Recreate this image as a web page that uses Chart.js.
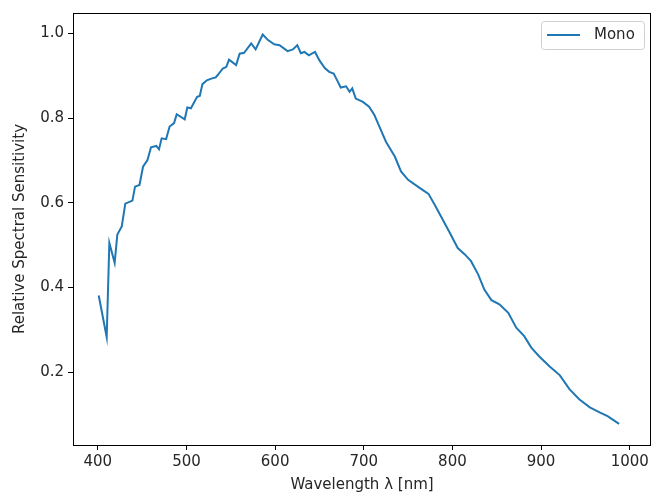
<!DOCTYPE html>
<html>
<head>
<meta charset="utf-8">
<script src="https://cdn.jsdelivr.net/npm/chart.js@4.4.1/dist/chart.umd.min.js"></script>
<style>
    html, body { margin: 0; padding: 0; background: #fff; }
    #wrap { width: 652px; height: 497px; }
</style>
</head>
<body>
<div id="wrap"><canvas id="chart"></canvas></div>
<script>
// Data
const wavelengths = [
    401, 410, 413, 419, 422, 427, 431, 439, 442, 447, 451, 456, 460, 466, 469, 472, 477, 481, 486, 489,
    498, 501, 505, 512, 515, 518, 523, 528, 533, 535, 541, 545, 548, 556, 560, 565, 573, 578, 586, 592,
    599, 605, 614, 620, 625, 629, 633, 638, 645, 650, 656, 661, 666, 670, 674, 680, 684, 687, 691, 699,
    706, 712, 718, 725, 735, 742, 750, 763, 773, 780, 787, 797, 806, 814, 821, 829, 836, 844, 853, 863,
    872, 881, 889, 898, 910, 921, 932, 943, 955, 966, 975, 988
];
const monoSensitivity = [
    0.381, 0.283, 0.505, 0.458, 0.525, 0.544, 0.598, 0.605, 0.638, 0.642, 0.685, 0.701, 0.731, 0.734, 0.726, 0.752, 0.750, 0.780, 0.788, 0.809,
    0.797, 0.825, 0.823, 0.850, 0.852, 0.880, 0.889, 0.893, 0.896, 0.901, 0.917, 0.921, 0.938, 0.925, 0.952, 0.954, 0.976, 0.962, 0.997, 0.984,
    0.974, 0.972, 0.958, 0.962, 0.972, 0.953, 0.956, 0.948, 0.956, 0.936, 0.918, 0.909, 0.905, 0.889, 0.872, 0.875, 0.862, 0.870, 0.846, 0.838,
    0.827, 0.807, 0.778, 0.744, 0.709, 0.674, 0.654, 0.635, 0.621, 0.595, 0.568, 0.529, 0.493, 0.478, 0.462, 0.431, 0.395, 0.370, 0.360, 0.340,
    0.305, 0.285, 0.258, 0.237, 0.213, 0.193, 0.160, 0.136, 0.117, 0.105, 0.096, 0.078
];
const xTicks = [400, 500, 600, 700, 800, 900, 1000];
const yTicks = [0.2, 0.4, 0.6, 0.8, 1.0];
const seriesLabel = "Mono";

const FONT = "'DejaVu Sans', sans-serif";
const TEXT = "#262626";
const BLUE = "#1f77b4";

// Frame round the plot area (matplotlib spines)
const framePlugin =
{
    id: 'frame',
    afterDatasetsDraw(chart)
    {
        const { ctx, chartArea: a } = chart;
        ctx.save();
        ctx.strokeStyle = "#000";
        ctx.lineWidth = 1;
        ctx.strokeRect(Math.round(a.left) + 0.5, Math.round(a.top) + 0.5,
                       Math.round(a.right - a.left) - 1, Math.round(a.bottom - a.top));
        ctx.restore();
    }
};

// Legend box in the upper right corner, inside the plot
const legendBoxPlugin =
{
    id: 'legendBox',
    afterDraw(chart)
    {
        const { ctx, chartArea: a } = chart;
        const ds = chart.data.datasets[0];
        const w = 103, h = 28;
        const x = a.right - 7 - w, y = a.top + 8;

        ctx.save();
        ctx.beginPath();
        ctx.roundRect(x + 0.5, y + 0.5, w, h, 3);
        ctx.fillStyle = "rgba(255,255,255,0.8)";
        ctx.fill();
        ctx.strokeStyle = "#d0d0d0";
        ctx.lineWidth = 1;
        ctx.stroke();

        ctx.beginPath();
        ctx.moveTo(x + 6, y + 14);
        ctx.lineTo(x + 39, y + 14);
        ctx.strokeStyle = ds.borderColor;
        ctx.lineWidth = 2;
        ctx.stroke();

        ctx.fillStyle = TEXT;
        ctx.font = "15px " + FONT;
        ctx.textBaseline = "middle";
        ctx.fillText(ds.label, x + 53, y + 14.5);
        ctx.restore();
    }
};

new Chart(
    document.getElementById('chart'),
    {
        type: 'line',

        data:
        {
            datasets:
            [
                {
                    label: seriesLabel,
                    data: wavelengths.map((w, i) => ({ x: w, y: monoSensitivity[i] })),
                    borderColor: BLUE,
                    borderWidth: 2,
                    pointRadius: 0,
                    tension: 0,
                    fill: false
                }
            ]
        },

        options:
        {
            responsive: true,
            maintainAspectRatio: false,
            animation: false,

            layout:
            {
                padding: { top: 12, right: 1, left: 0, bottom: 0 }
            },

            plugins:
            {
                legend: { display: false },
                tooltip: { enabled: false }
            },

            scales:
            {
                x:
                {
                    type: 'linear',
                    min: 372,
                    max: 1024,
                    afterBuildTicks: (scale) => { scale.ticks = xTicks.map(v => ({ value: v })); },
                    afterFit: (scale) => { scale.height = 52; },
                    border: { display: false },
                    grid:
                    {
                        drawOnChartArea: false,
                        drawTicks: true,
                        tickLength: 5,
                        color: "#000"
                    },
                    ticks:
                    {
                        color: TEXT,
                        padding: 3,
                        font: { family: FONT, size: 15 },
                        callback: (v) => String(v),
                        maxRotation: 0
                    },
                    title:
                    {
                        display: true,
                        text: "Wavelength λ [nm]",
                        color: TEXT,
                        font: { family: FONT, size: 15 },
                        padding: { top: 0, bottom: 3 }
                    }
                },

                y:
                {
                    min: 0.028,
                    max: 1.048,
                    afterBuildTicks: (scale) => { scale.ticks = yTicks.map(v => ({ value: v })); },
                    afterFit: (scale) => { scale.width = 73; },
                    border: { display: false },
                    grid:
                    {
                        drawOnChartArea: false,
                        drawTicks: true,
                        tickLength: 5,
                        color: "#000"
                    },
                    ticks:
                    {
                        color: TEXT,
                        padding: 4,
                        font: { family: FONT, size: 15 },
                        callback: (v) => Number(v).toFixed(1)
                    },
                    title:
                    {
                        display: true,
                        text: "Relative Spectral Sensitivity",
                        color: TEXT,
                        font: { family: FONT, size: 15 },
                        padding: { top: 11, bottom: 0 }
                    }
                }
            }
        },

        plugins: [framePlugin, legendBoxPlugin]
    }
);
</script>
</body>
</html>
